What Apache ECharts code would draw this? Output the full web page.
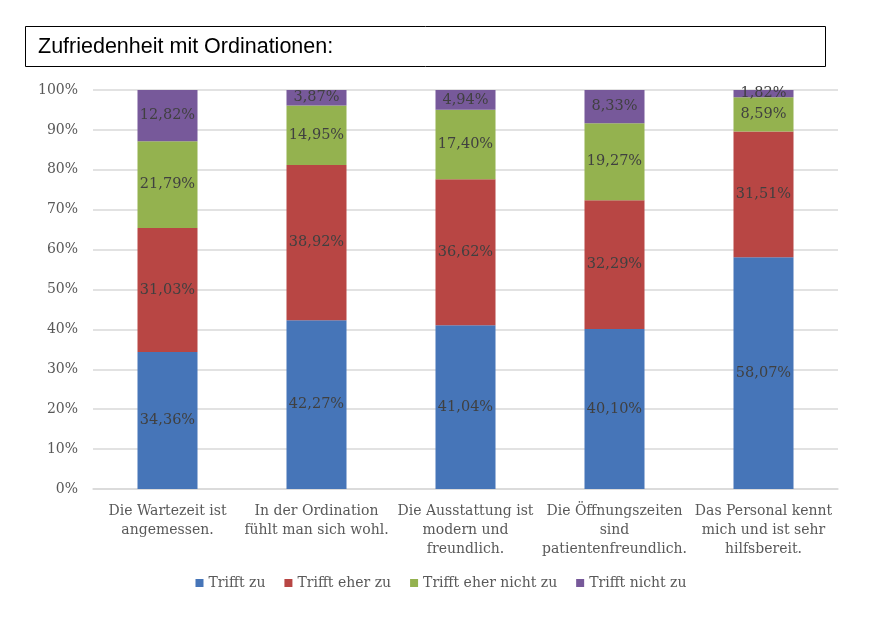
<!DOCTYPE html>
<html>
<head>
<meta charset="utf-8">
<script src="https://cdn.jsdelivr.net/npm/echarts@6/dist/echarts.min.js"></script>
<style>
html,body{margin:0;padding:0;background:#fff;}
#chart{width:882px;height:622px;}
</style>
</head>
<body>
<div id="chart"></div>
<script>
const titleText = 'Zufriedenheit mit Ordinationen:';
const categories = [
  'Die Wartezeit ist\nangemessen.',
  'In der Ordination\nfühlt man sich wohl.',
  'Die Ausstattung ist\nmodern und\nfreundlich.',
  'Die Öffnungszeiten\nsind\npatientenfreundlich.',
  'Das Personal kennt\nmich und ist sehr\nhilfsbereit.'
];
const seriesNames = ['Trifft zu', 'Trifft eher zu', 'Trifft eher nicht zu', 'Trifft nicht zu'];
const trifftZu = [34.36, 42.27, 41.04, 40.10, 58.07];
const trifftEherZu = [31.03, 38.92, 36.62, 32.29, 31.51];
const trifftEherNichtZu = [21.79, 14.95, 17.40, 19.27, 8.59];
const trifftNichtZu = [12.82, 3.87, 4.94, 8.33, 1.82];
const yTicks = [0, 10, 20, 30, 40, 50, 60, 70, 80, 90, 100];

const colors = ['#4675B8', '#B84644', '#94B24F', '#77599A'];
const serif = 'DejaVu Serif';
const allData = [trifftZu, trifftEherZu, trifftEherNichtZu, trifftNichtZu];

const chart = echarts.init(document.getElementById('chart'));
chart.setOption({
  animation: false,
  color: colors,
  graphic: [
    { type: 'rect', shape: { x: 25.5, y: 26.5, width: 800, height: 40 },
      style: { fill: '#fff', stroke: '#000', lineWidth: 1 } },
    { type: 'text', left: 38, top: 36,
      style: { text: titleText, font: '21.5px "Liberation Sans", Arial, sans-serif', fill: '#000' } }
  ],
  grid: { left: 93, right: 44, top: 90, bottom: 133, containLabel: false },
  legend: {
    bottom: 27, left: 'center',
    itemWidth: 8, itemHeight: 8, itemGap: 19,
    icon: 'rect',
    textStyle: { fontFamily: serif, fontSize: 14, color: '#595959' },
    data: seriesNames
  },
  xAxis: {
    type: 'category',
    data: categories,
    axisLine: { lineStyle: { color: '#d9d9d9', width: 1.5 } },
    axisTick: { show: false },
    axisLabel: { fontFamily: serif, fontSize: 14, color: '#595959', margin: 13, lineHeight: 19, interval: 0 }
  },
  yAxis: {
    type: 'value', min: 0, max: 100, interval: 10,
    axisLine: { show: false }, axisTick: { show: false },
    splitLine: { lineStyle: { color: '#d9d9d9', width: 1.5 } },
    axisLabel: { fontFamily: serif, fontSize: 14, color: '#595959', margin: 15,
      formatter: v => yTicks.includes(v) ? v + '%' : '' }
  },
  series: seriesNames.map((name, i) => ({
    name, type: 'bar', stack: 'total', barWidth: 60,
    data: allData[i],
    label: {
      show: true, position: 'inside',
      fontFamily: serif, fontSize: 14.5, color: '#404040',
      formatter: p => p.value.toFixed(2).replace('.', ',') + '%'
    }
  }))
});
</script>
</body>
</html>
